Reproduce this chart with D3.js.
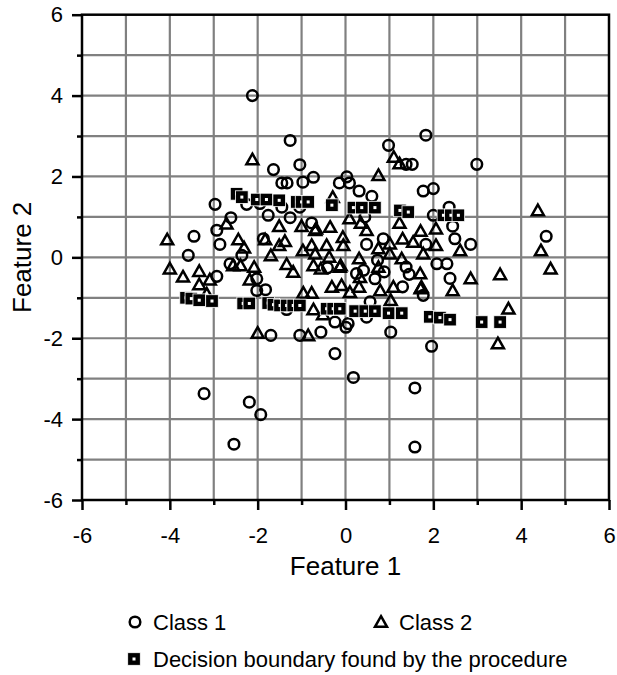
<!DOCTYPE html>
<html>
<head>
<meta charset="utf-8">
<script src="https://cdn.jsdelivr.net/npm/d3@7"></script>
<style>
  body { margin: 0; background: #fff; }
  text { font-family: "Liberation Sans", Arial, sans-serif; fill: #000; }
</style>
</head>
<body>
<div id="chart"></div>
<script>
// data
var class1 = [
	[-2.12, 4.0], [-1.26, 2.89], [-1.64, 2.17], [-1.04, 2.29], [-1.45, 1.84], [-1.33, 1.84],
	[-0.97, 1.86], [-0.73, 1.98], [-2.97, 1.31], [-2.25, 1.31], [-1.95, 1.33], [-1.76, 1.04],
	[-1.45, 1.24], [-1.26, 0.98], [-1.04, 1.24], [-0.77, 0.85], [-2.61, 0.98], [-2.93, 0.67],
	[-2.86, 0.32], [-3.45, 0.52], [-3.58, 0.05], [-1.87, 0.46], [-2.63, -0.16], [-2.36, 0.05],
	[-2.93, -0.47], [1.83, 3.02], [0.98, 2.77], [1.52, 2.3], [1.38, 2.3], [2.99, 2.3],
	[-0.14, 1.84], [0.03, 1.99], [0.09, 1.84], [0.31, 1.64], [0.6, 1.51], [1.77, 1.64],
	[2.0, 1.7], [2.36, 1.24], [2.0, 1.04], [2.44, 0.77], [2.49, 0.46], [2.85, 0.32],
	[4.57, 0.52], [2.08, -0.16], [2.31, -0.16], [0.48, 0.32], [0.86, 0.46], [1.83, 0.32],
	[0.44, 1.0], [-0.41, -0.26], [0.41, -0.32], [0.73, -0.07], [1.38, -0.24], [2.38, -0.52],
	[-2.02, -0.53], [-2.02, -0.82], [-1.82, -0.8], [-1.70, -1.93], [-1.04, -1.93], [-0.56, -1.85],
	[-3.22, -3.37], [-2.19, -3.58], [-1.93, -3.89], [-2.54, -4.62], [-1.34, -1.29],
	[1.77, -0.94], [-0.24, -1.6], [0.01, -1.73], [0.06, -1.64], [0.48, -1.48], [1.03, -1.85],
	[1.96, -2.2], [-0.24, -2.38], [0.18, -2.97], [1.58, -3.23], [1.58, -4.69], [1.45, -0.42],
	[0.67, -0.53], [0.25, -0.4], [0.88, -0.36], [1.3, -0.73], [0.56, -1.1]
];

var class2 = [
	[-2.12, 2.42], [-4.06, 0.44], [-4.0, -0.28], [-3.33, -0.34], [-3.70, -0.48], [-2.71, 0.83],
	[-2.44, 0.44], [-2.31, 0.24], [-2.56, -0.2], [-2.39, -0.2], [-2.08, -0.24], [-1.51, 0.77],
	[-1.83, 0.44], [-1.51, 0.3], [-1.38, 0.4], [-1.70, 0.05], [-1.34, -0.17], [-1.19, -0.36],
	[-1.0, 0.77], [-0.97, 0.17], [-0.77, 0.3], [-0.69, 0.67], [-0.73, -0.2],
	[1.1, 2.48], [1.23, 2.32], [0.75, 2.03], [4.38, 1.16], [4.45, 0.17], [4.67, -0.28],
	[3.52, -0.42], [2.85, -0.52], [-0.29, 1.49], [-0.67, 0.71], [-0.35, 0.75], [0.09, 0.96],
	[0.35, 0.85], [0.48, 0.67], [-0.06, 0.5], [-0.05, 0.3], [-0.43, 0.3], [-0.69, 0.09],
	[-0.37, 0.01], [-0.11, -0.2], [0.31, -0.03], [0.75, 0.22], [1.01, 0.34], [1.3, 0.46],
	[1.54, 0.38], [1.71, 0.65], [2.06, 0.71], [2.06, 0.3], [1.77, 0.09], [2.61, 0.17],
	[1.23, 0.85], [1.28, -0.03], [1.7, -0.4], [-3.33, -0.67], [-3.09, -0.55], [-3.16, -0.9],
	[-2.18, -0.55], [-0.96, -0.88], [-0.77, -0.88], [-0.73, -1.29], [-2.0, -1.87], [-0.85, -1.93],
	[2.44, -0.82], [3.71, -1.27], [3.47, -2.13], [1.71, -0.77], [1.09, -0.73], [0.79, -0.82],
	[0.31, -0.73], [0.1, -0.86], [-0.31, -0.73], [-0.09, -0.69], [1.03, -1.06], [-0.51, -1.41],
	[-0.56, -0.28], [-0.13, -0.24], [0.75, -0.24], [0.33, -0.49], [1.01, 0.09], [1.73, -0.73]
];

var boundary = [
	[-3.63, -1.0], [-3.51, -1.02], [-3.33, -1.06], [-3.04, -1.08], [-2.33, -1.14], [-2.19, -1.14],
	[-1.76, -1.13], [-1.64, -1.17], [-1.49, -1.19], [-1.34, -1.19], [-1.19, -1.19], [-1.04, -1.19],
	[-0.43, -1.27], [-0.28, -1.27], [-0.13, -1.27], [0.22, -1.33], [0.45, -1.33], [0.67, -1.33],
	[0.98, -1.38], [1.28, -1.38], [1.92, -1.47], [2.15, -1.49], [2.38, -1.54], [3.1, -1.6],
	[3.52, -1.6],
	[-2.48, 1.57], [-2.36, 1.49], [-2.02, 1.43], [-1.8, 1.43], [-1.51, 1.41], [-1.11, 1.37],
	[-1.0, 1.37], [-0.85, 1.37], [-0.31, 1.29], [0.18, 1.23], [0.37, 1.23], [0.67, 1.23],
	[1.24, 1.16], [1.43, 1.12], [2.23, 1.04], [2.4, 1.04], [2.57, 1.04]
];

var majorTicks = [-6, -4, -2, 0, 2, 4, 6];
var minorTicks = [-5, -3, -1, 1, 3, 5];
var gridLines = [-5, -4, -3, -2, -1, 0, 1, 2, 3, 4, 5];

var fullWidth = 617, fullHeight = 675;
var plot = {left: 82, right: 609, top: 14.7, bottom: 500};

var svg = d3.select("#chart").append("svg")
	.attr("width", fullWidth)
	.attr("height", fullHeight);

var xScale = d3.scaleLinear().domain([-6, 6]).range([plot.left, plot.right]);
var yScale = d3.scaleLinear().domain([-6, 6]).range([plot.bottom, plot.top]);

// grid
var grid = svg.append("g").attr("class", "grid")
	.attr("stroke", "#808080")
	.attr("stroke-width", 2.2);

grid.selectAll(".vgrid")
	.data(gridLines)
	.enter().append("line")
	.attr("x1", function(d) { return xScale(d); })
	.attr("x2", function(d) { return xScale(d); })
	.attr("y1", plot.top)
	.attr("y2", plot.bottom);

grid.selectAll(".hgrid")
	.data(gridLines)
	.enter().append("line")
	.attr("y1", function(d) { return yScale(d); })
	.attr("y2", function(d) { return yScale(d); })
	.attr("x1", plot.left)
	.attr("x2", plot.right);

// frame
svg.append("rect")
	.attr("x", plot.left)
	.attr("y", plot.top)
	.attr("width", plot.right - plot.left)
	.attr("height", plot.bottom - plot.top)
	.attr("fill", "none")
	.attr("stroke", "#000")
	.attr("stroke-width", 2.5);

// axes (hyphen minus like the original)
var fmt = function(d) { return String(d); };
var xAxis = d3.axisBottom(xScale).tickValues(majorTicks).tickSize(10).tickPadding(17).tickFormat(fmt),
	xAxisMinor = d3.axisBottom(xScale).tickValues(minorTicks).tickSize(5).tickFormat(""),
	yAxis = d3.axisLeft(yScale).tickValues(majorTicks).tickSize(10).tickPadding(9).tickFormat(fmt),
	yAxisMinor = d3.axisLeft(yScale).tickValues(minorTicks).tickSize(5).tickFormat("");

function styleAxis(g) {
	g.select(".domain").remove();
	g.selectAll(".tick line").attr("stroke", "#000").attr("stroke-width", 2.5);
	g.selectAll(".tick text")
		.style("font-family", "'Liberation Sans', Arial, sans-serif")
		.style("font-size", "22px")
		.attr("fill", "#000");
}

svg.append("g").attr("class", "x axis")
	.attr("transform", "translate(0," + plot.bottom + ")")
	.call(xAxis).call(styleAxis);
svg.append("g").attr("class", "x axis minor")
	.attr("transform", "translate(0," + plot.bottom + ")")
	.call(xAxisMinor).call(styleAxis);
svg.append("g").attr("class", "y axis")
	.attr("transform", "translate(" + plot.left + ",0)")
	.call(yAxis).call(styleAxis);
svg.append("g").attr("class", "y axis minor")
	.attr("transform", "translate(" + plot.left + ",0)")
	.call(yAxisMinor).call(styleAxis);

// axis titles
svg.append("text")
	.attr("x", xScale(0))
	.attr("y", 575)
	.attr("text-anchor", "middle")
	.style("font-size", "26px")
	.text("Feature 1");

svg.append("text")
	.attr("transform", "translate(31," + yScale(0) + ") rotate(-90)")
	.attr("text-anchor", "middle")
	.style("font-size", "26px")
	.text("Feature 2");

// markers
var triPath = "M0,-5.8L6,4.8L-6,4.8Z";

function drawCircle(sel) {
	sel.attr("r", 5.3)
		.attr("fill", "none")
		.attr("stroke", "#000")
		.attr("stroke-width", 2.5);
}

function drawTriangle(sel) {
	sel.attr("d", triPath)
		.attr("fill", "none")
		.attr("stroke", "#000")
		.attr("stroke-width", 2.5)
		.attr("stroke-linejoin", "miter");
}

function drawSquare(sel) {
	sel.append("rect")
		.attr("x", -6.3).attr("y", -6.3)
		.attr("width", 12.6).attr("height", 12.6)
		.attr("fill", "#000")
		.attr("stroke", "#fff")
		.attr("stroke-width", 0.8);
	sel.append("rect")
		.attr("x", -1.5).attr("y", -1.5)
		.attr("width", 3).attr("height", 3)
		.attr("fill", "#fff");
}

var points = svg.append("g").attr("class", "points");

points.selectAll(".c1")
	.data(class1)
	.enter().append("circle")
	.attr("class", "c1")
	.attr("cx", function(d) { return xScale(d[0]); })
	.attr("cy", function(d) { return yScale(d[1]); })
	.call(drawCircle);

points.selectAll(".c2")
	.data(class2)
	.enter().append("path")
	.attr("class", "c2")
	.attr("transform", function(d) { return "translate(" + xScale(d[0]) + "," + yScale(d[1]) + ")"; })
	.call(drawTriangle);

points.selectAll(".bd")
	.data(boundary)
	.enter().append("g")
	.attr("class", "bd")
	.attr("transform", function(d) { return "translate(" + xScale(d[0]) + "," + yScale(d[1]) + ")"; })
	.call(drawSquare);

// legend
var legend = svg.append("g").attr("class", "legend");

legend.append("circle")
	.attr("cx", 135).attr("cy", 622)
	.call(drawCircle);
legend.append("text")
	.attr("x", 153).attr("y", 630)
	.style("font-size", "22px")
	.text("Class 1");

legend.append("path")
	.attr("transform", "translate(381,622)")
	.call(drawTriangle);
legend.append("text")
	.attr("x", 399).attr("y", 630)
	.style("font-size", "22px")
	.text("Class 2");

legend.append("g")
	.attr("transform", "translate(134,659)")
	.call(drawSquare);
legend.append("text")
	.attr("x", 153).attr("y", 667)
	.style("font-size", "22px")
	.text("Decision boundary found by the procedure");
</script>
</body>
</html>
